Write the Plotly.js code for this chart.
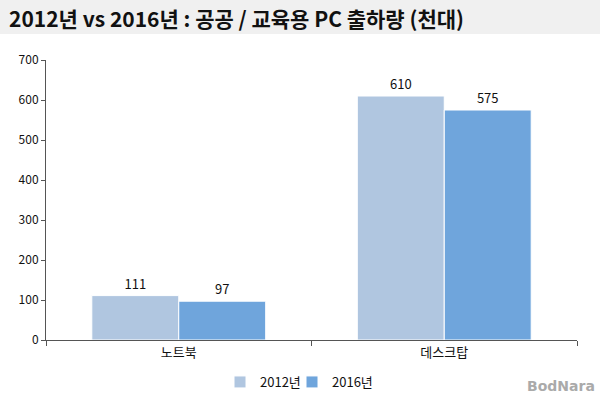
<!DOCTYPE html>
<html><head><meta charset="utf-8">
<script src="https://cdn.plot.ly/plotly-3.0.1.min.js"></script>
<style>html,body{margin:0;padding:0;background:#fff}#c{width:600px;height:399px}</style>
</head><body><div id="c"></div>
<script>
const categories = ["노트북", "데스크탑"];
const series2012 = [111, 610];
const series2016 = [97, 575];
const seriesNames = ["2012년", "2016년"];
const yTicks = [0, 100, 200, 300, 400, 500, 600, 700];

const W = 600, H = 399, L = 46, R = 23, T = 60, B = 59;
const pw = W - L - R, ph = H - T - B;
const px = v => (v - L) / pw, py = v => (H - B - v) / ph;
const font = "'Noto Sans CJK KR', 'Noto Sans', sans-serif";

const mk = (y, name, color, lg) => ({
  type: 'bar', x: categories, y: y, name: name, legend: lg,
  marker: {color: color, line: {color: '#ffffff', width: 1}},
  text: y.map(String), textposition: 'outside', cliponaxis: false,
  textfont: {family: font, size: 13, color: '#111'}, hoverinfo: 'none'
});
const lgd = xpx => ({orientation: 'h', x: px(xpx), xanchor: 'left', y: py(367), yanchor: 'top',
  font: {size: 13, family: font}, itemwidth: 30, bgcolor: 'rgba(0,0,0,0)'});

Plotly.newPlot('c', [
  mk(series2012, seriesNames[0], '#b0c6e0', 'legend'),
  mk(series2016, seriesNames[1], '#6fa5dc', 'legend2')
], {
  width: W, height: H,
  margin: {l: L, r: R, t: T, b: B, autoexpand: false},
  paper_bgcolor: '#fff', plot_bgcolor: '#fff',
  barmode: 'group', bargap: 0.345, bargroupgap: 0.0,
  font: {family: font, color: '#111'},
  showlegend: true,
  legend: lgd(220),
  legend2: lgd(292),
  xaxis: {showline: true, linecolor: '#555', linewidth: 1, ticks: 'outside', tickson: 'boundaries',
          ticklen: 5, tickcolor: '#555', tickfont: {size: 13, family: font}, showgrid: false,
          zeroline: false, automargin: false},
  yaxis: {range: [0, 700], tickvals: yTicks, showline: true, linecolor: '#555', linewidth: 1,
          ticks: 'outside', ticklen: 4, tickcolor: '#555', tickfont: {size: 12, family: font},
          showgrid: false, zeroline: false, automargin: false},
  shapes: [{type: 'rect', xref: 'paper', yref: 'paper', x0: px(0), x1: px(W), y0: py(34), y1: py(0),
            fillcolor: '#f0f0f0', line: {width: 0}, layer: 'below'}],
  annotations: [
    {text: '<b>2012년 vs 2016년 : 공공 / 교육용 PC 출하량 (천대)</b>', xref: 'paper', yref: 'paper',
     x: px(7), y: py(18), xanchor: 'left', yanchor: 'middle', showarrow: false,
     font: {size: 21, family: font, color: '#111'}},
    {text: '<b>BodNara</b>', xref: 'paper', yref: 'paper', x: px(597), y: py(386),
     xanchor: 'right', yanchor: 'middle', showarrow: false,
     font: {size: 14, family: "'DejaVu Sans', sans-serif", color: '#aaa'}}
  ]
}, {staticPlot: true});
</script></body></html>
